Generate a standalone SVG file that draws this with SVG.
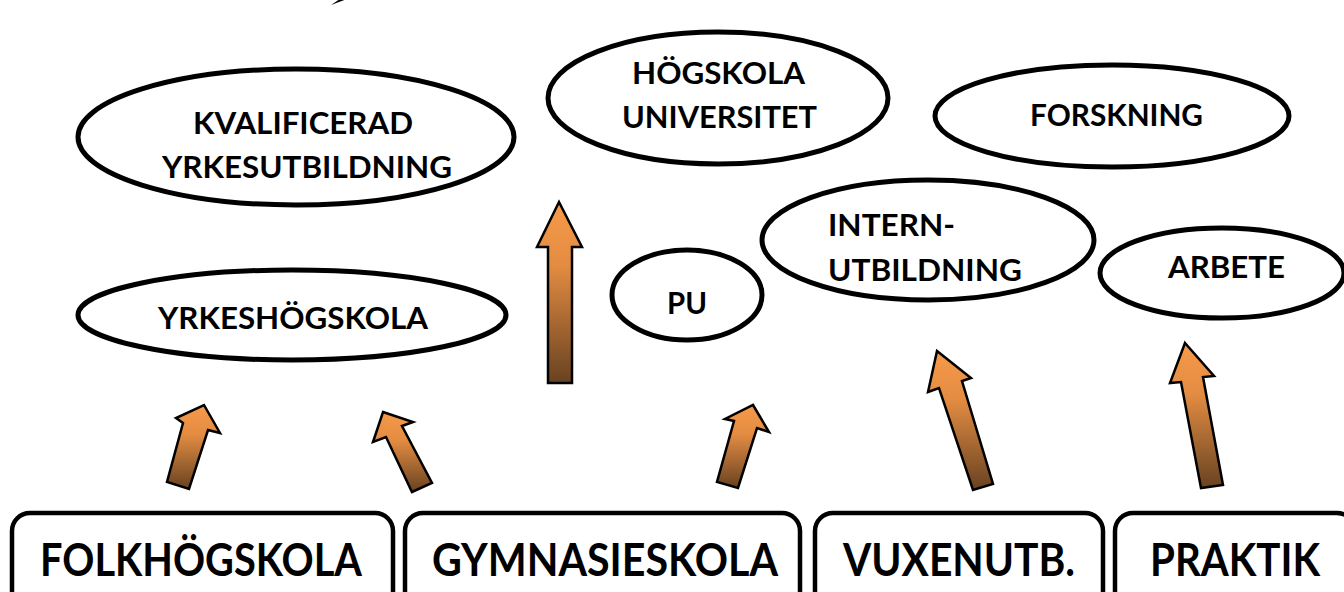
<svg xmlns="http://www.w3.org/2000/svg" width="1344" height="592" viewBox="0 0 1344 592">
<style>
.el{fill:#fff;stroke:#000;stroke-width:5}
.bx{fill:#fff;stroke:#000;stroke-width:4.5}
.ar{fill:url(#g);stroke:#000;stroke-width:2.5;stroke-linejoin:miter}
.t{font-family:Lato,"Open Sans","Liberation Sans",sans-serif;font-weight:bold;fill:#000}
.s{font-size:31px}
.b{font-size:45px}
</style>
<defs>
<linearGradient id="g" x1="0" y1="0" x2="0" y2="1">
<stop offset="0" stop-color="#F79A4A"/>
<stop offset="0.35" stop-color="#E38C42"/>
<stop offset="1" stop-color="#684221"/>
</linearGradient>
</defs>
<rect width="1344" height="592" fill="#fff"/>
<path d="M331,5 L347,-1 L340,-1 Z" fill="#000"/>
<g id="n-kval"><ellipse class="el" cx="296" cy="137" rx="218" ry="68"/>
<text class="t s" x="193" y="134" textLength="220" lengthAdjust="spacingAndGlyphs">KVALIFICERAD</text>
<text class="t s" x="162" y="178" textLength="290" lengthAdjust="spacingAndGlyphs">YRKESUTBILDNING</text></g>
<g id="n-hog"><ellipse class="el" cx="718" cy="98" rx="170" ry="66"/>
<text class="t s" x="632" y="84" textLength="173" lengthAdjust="spacingAndGlyphs">HÖGSKOLA</text>
<text class="t s" x="622" y="128" textLength="195" lengthAdjust="spacingAndGlyphs">UNIVERSITET</text></g>
<g id="n-forsk"><ellipse class="el" cx="1112" cy="116" rx="177" ry="51"/>
<text class="t s" x="1030" y="126" textLength="173" lengthAdjust="spacingAndGlyphs">FORSKNING</text></g>
<g id="n-intern"><ellipse class="el" cx="928" cy="240" rx="166" ry="60"/>
<text class="t s" x="828" y="236" textLength="127" lengthAdjust="spacingAndGlyphs">INTERN-</text>
<text class="t s" x="828" y="281" textLength="194" lengthAdjust="spacingAndGlyphs">UTBILDNING</text></g>
<g id="n-arbete"><ellipse class="el" cx="1222" cy="273" rx="122" ry="45"/>
<text class="t s" x="1168" y="278" textLength="117" lengthAdjust="spacingAndGlyphs">ARBETE</text></g>
<g id="n-pu"><ellipse class="el" cx="687" cy="295" rx="75" ry="45"/>
<text class="t s" x="667" y="314" textLength="40" lengthAdjust="spacingAndGlyphs">PU</text></g>
<g id="n-yh"><ellipse class="el" cx="292" cy="315" rx="214" ry="45"/>
<text class="t s" x="158" y="329" textLength="270" lengthAdjust="spacingAndGlyphs">YRKESHÖGSKOLA</text></g>
<g id="n-folk"><rect class="bx" x="12" y="513" width="381" height="110" rx="18"/>
<text class="t b" x="40" y="576" textLength="322" lengthAdjust="spacingAndGlyphs">FOLKHÖGSKOLA</text></g>
<g id="n-gym"><rect class="bx" x="405" y="513" width="395" height="110" rx="18"/>
<text class="t b" x="432" y="576" textLength="346" lengthAdjust="spacingAndGlyphs">GYMNASIESKOLA</text></g>
<g id="n-vux"><rect class="bx" x="815" y="513" width="288" height="110" rx="18"/>
<text class="t b" x="843" y="576" textLength="232" lengthAdjust="spacingAndGlyphs">VUXENUTB.</text></g>
<g id="n-prak"><rect class="bx" x="1115" y="513" width="240" height="110" rx="18"/>
<text class="t b" x="1150" y="576" textLength="170" lengthAdjust="spacingAndGlyphs">PRAKTIK</text></g>
<g id="connectors">
<polygon class="ar" points="559,202 582,247 572,247 572,383 548,383 548,247 537,247"/>
<polygon class="ar" points="204,405 220,433 208,430 189,489 167,482 183,423 176,418"/>
<polygon class="ar" points="383,412 413,422 402,426 432,483 412,492 386,437 373,442"/>
<polygon class="ar" points="753,405 769,432 757,428 738,488 717,482 734,421 725,419"/>
<polygon class="ar" points="937,351 971,378 962,381 993,484 973,490 939,388 928,392"/>
<polygon class="ar" points="1185,343 1214,376 1203,377 1223,485 1201,488 1181,382 1170,383"/>
</g>
</svg>
